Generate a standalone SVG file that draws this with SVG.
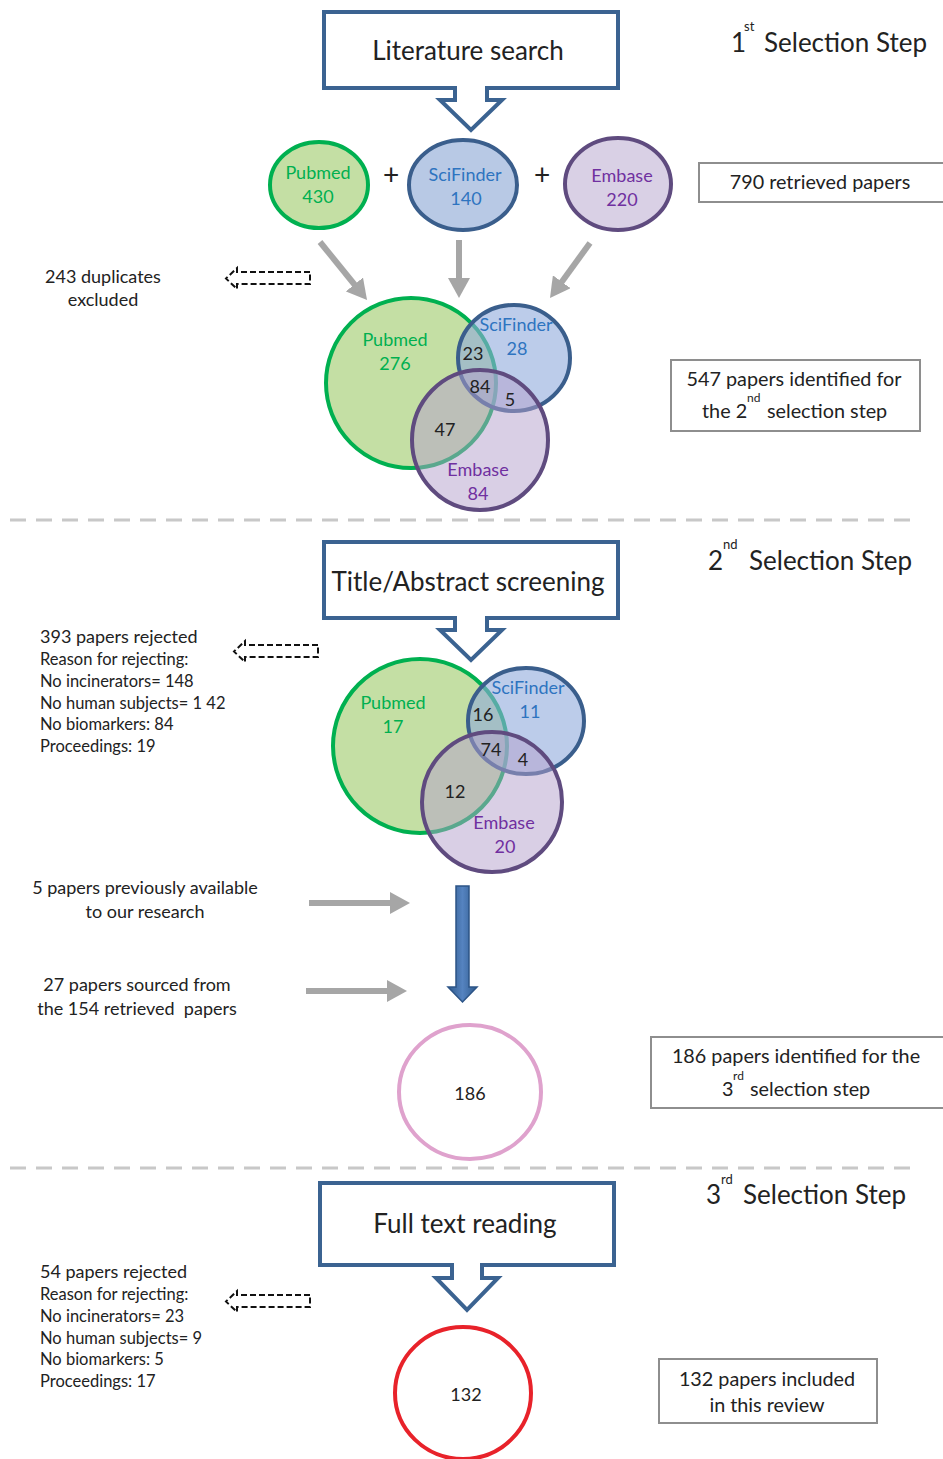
<svg xmlns="http://www.w3.org/2000/svg" width="943" height="1459" viewBox="0 0 943 1459">
<style>
text{font-family:Lato,"Open Sans","Liberation Sans",sans-serif;fill:#222}
.c{text-anchor:middle}
.step{font-size:26px}
.sup{font-size:13px}
.box{font-size:19.8px}
.main{font-size:26px}
.lst{font-size:16.5px}
.v{font-size:18px}
.g{fill:#00b050}.b{fill:#2e74c0}.p{fill:#7030a0}
.callout{fill:#fff;stroke:#3b6391;stroke-width:4;stroke-linejoin:miter}
.gbox{fill:#fff;stroke:#8e8e8e;stroke-width:2}
.dash{fill:none;stroke:#111;stroke-width:2;stroke-dasharray:6 3}
.garrow{stroke:#a6a6a6;stroke-width:6;fill:none;marker-end:url(#gh)}
.sep{stroke:#c8c8c8;stroke-width:3;stroke-dasharray:16 10}
.pm{fill:#c4dfa4;stroke:#00b050;stroke-width:4}
.sf{fill:#8faadc;fill-opacity:0.6;stroke:#3a5e8c;stroke-width:4}
.em{fill:#b4a0cc;fill-opacity:0.5;stroke:#5f4b7f;stroke-width:4}
</style>
<defs>
<marker id="gh" markerUnits="userSpaceOnUse" markerWidth="22" markerHeight="22" refX="2" refY="11" orient="auto">
<path d="M0,0 L20,11 L0,22 Z" fill="#a6a6a6"/>
</marker>
<linearGradient id="bl" x1="0" y1="0" x2="1" y2="0">
<stop offset="0" stop-color="#2f5a8c"/>
<stop offset="0.5" stop-color="#5583c0"/>
<stop offset="1" stop-color="#2f5a8c"/>
</linearGradient>
</defs>

<g id="separators">
<line class="sep" x1="10" y1="520" x2="915" y2="520"/>
<line class="sep" x1="10" y1="1168" x2="915" y2="1168"/>
</g>

<g id="step-titles">
<text class="step" x="731" y="52">1</text><text class="sup" x="744" y="31">st</text><text class="step" x="764" y="52">Selection Step</text>
<text class="step" x="708" y="570">2</text><text class="sup" x="723" y="549">nd</text><text class="step" x="749" y="570">Selection Step</text>
<text class="step" x="706" y="1204">3</text><text class="sup" x="721" y="1184">rd</text><text class="step" x="743" y="1204">Selection Step</text>
</g>

<g id="literature-search">
<path class="callout" d="M324,12 H618 V88 H487 V100 H502 L471,130 L440,100 H455 V88 H324 Z"/>
<text class="main c" x="468" y="60">Literature search</text>
</g>

<g id="pubmed-430">
<ellipse cx="319" cy="185" rx="49" ry="43" class="pm"/>
<text class="v c g" x="318" y="179">Pubmed</text>
<text class="v c g" x="318" y="203">430</text>
</g>
<g id="plus-signs">
<text x="391" y="185" class="c" font-size="28">+</text>
<text x="542" y="185" class="c" font-size="28">+</text>
</g>
<g id="scifinder-140">
<ellipse cx="463" cy="185" rx="54" ry="45" fill="#b8c9e5" stroke="#3a5e8c" stroke-width="4"/>
<text class="v c b" x="465" y="181">SciFinder</text>
<text class="v c b" x="466" y="205">140</text>
</g>
<g id="embase-220">
<ellipse cx="618" cy="184" rx="53" ry="46" fill="#d9d0e5" stroke="#5f4b7f" stroke-width="4"/>
<text class="v c p" x="622" y="182">Embase</text>
<text class="v c p" x="622" y="206">220</text>
</g>

<g id="retrieved-790">
<rect class="gbox" x="699" y="163" width="250" height="39"/>
<text class="box c" x="820" y="189">790 retrieved papers</text>
</g>

<g id="duplicates-243">
<text x="103" y="283" class="c" font-size="18">243 duplicates</text>
<text x="103" y="306" class="c" font-size="18">excluded</text>
</g>

<g id="venn-1">
<circle cx="411" cy="383" r="85" class="pm"/>
<ellipse cx="514" cy="358" rx="56" ry="53" class="sf"/>
<ellipse cx="480" cy="440" rx="68" ry="70" class="em"/>
<text class="v c g" x="395" y="346">Pubmed</text>
<text class="v c g" x="395" y="370">276</text>
<text class="v c b" x="516" y="331">SciFinder</text>
<text class="v c b" x="517" y="355">28</text>
<text class="v c" x="473" y="360">23</text>
<text class="v c" x="480" y="393">84</text>
<text class="v c" x="510" y="406">5</text>
<text class="v c" x="445" y="436">47</text>
<text class="v c p" x="478" y="476">Embase</text>
<text class="v c p" x="478" y="500">84</text>
</g>

<g id="identified-547">
<rect class="gbox" x="671" y="360" width="249" height="71"/>
<text class="box c" x="794" y="386">547 papers identified for</text>
<text class="box" x="702" y="418">the 2</text>
<text x="747" y="402" font-size="12">nd</text>
<text class="box" x="767" y="418">selection step</text>
</g>

<g id="title-abstract-screening">
<path class="callout" d="M324,542 H618 V618 H487 V630 H502 L471,660 L440,630 H455 V618 H324 Z"/>
<text class="main c" x="468" y="591">Title/Abstract screening</text>
</g>

<g id="rejected-393">
<text x="40" y="643" font-size="18">393 papers rejected</text>
<text class="lst" x="40" y="665">Reason for rejecting:</text>
<text class="lst" x="40" y="687">No incinerators= 148</text>
<text class="lst" x="40" y="709">No human subjects= 1 42</text>
<text class="lst" x="40" y="730">No biomarkers: 84</text>
<text class="lst" x="40" y="752">Proceedings: 19</text>
</g>

<g id="venn-2">
<circle cx="420" cy="746" r="87" class="pm"/>
<ellipse cx="526" cy="721" rx="58" ry="53" class="sf"/>
<ellipse cx="492" cy="802" rx="70" ry="70" class="em"/>
<text class="v c g" x="393" y="709">Pubmed</text>
<text class="v c g" x="393" y="733">17</text>
<text class="v c b" x="528" y="694">SciFinder</text>
<text class="v c b" x="530" y="718">11</text>
<text class="v c" x="483" y="721">16</text>
<text class="v c" x="491" y="756">74</text>
<text class="v c" x="523" y="766">4</text>
<text class="v c" x="455" y="798">12</text>
<text class="v c p" x="504" y="829">Embase</text>
<text class="v c p" x="505" y="853">20</text>
</g>

<g id="previously-available-5">
<text x="145" y="894" class="c" font-size="18">5 papers previously available</text>
<text x="145" y="918" class="c" font-size="18">to our research</text>
</g>
<g id="sourced-27">
<text x="137" y="991" class="c" font-size="18">27 papers sourced from</text>
<text x="137" y="1015" class="c" font-size="18" xml:space="preserve">the 154 retrieved  papers</text>
</g>

<g id="total-186">
<ellipse cx="470" cy="1092" rx="71" ry="67" fill="#fff" stroke="#dfa2cd" stroke-width="4"/>
<text class="v c" x="470" y="1100">186</text>
</g>

<g id="identified-186">
<rect class="gbox" x="651" y="1037" width="300" height="71"/>
<text class="box c" x="796" y="1063">186 papers identified for the</text>
<text class="box" x="722" y="1096">3</text>
<text x="733" y="1080" font-size="12">rd</text>
<text class="box" x="750" y="1096">selection step</text>
</g>

<g id="full-text-reading">
<path class="callout" d="M320,1183 H614 V1265 H482 V1278 H498 L467,1310 L436,1278 H452 V1265 H320 Z"/>
<text class="main c" x="465" y="1233">Full text reading</text>
</g>

<g id="rejected-54">
<text x="40" y="1278" font-size="18">54 papers rejected</text>
<text class="lst" x="40" y="1300">Reason for rejecting:</text>
<text class="lst" x="40" y="1322">No incinerators= 23</text>
<text class="lst" x="40" y="1344">No human subjects= 9</text>
<text class="lst" x="40" y="1365">No biomarkers: 5</text>
<text class="lst" x="40" y="1387">Proceedings: 17</text>
</g>

<g id="included-132">
<ellipse cx="463" cy="1393" rx="68" ry="66" fill="#fff" stroke="#e8222a" stroke-width="4"/>
<text class="v c" x="466" y="1401">132</text>
</g>

<g id="included-box">
<rect class="gbox" x="659" y="1359" width="218" height="64"/>
<text class="box c" x="767" y="1386">132 papers included</text>
<text class="box c" x="767" y="1412">in this review</text>
</g>

<g id="connectors">
<line class="garrow" x1="320" y1="242" x2="355.7" y2="286"/>
<line class="garrow" x1="459" y1="240" x2="459" y2="280"/>
<line class="garrow" x1="590" y1="243" x2="560.6" y2="283.4"/>
<path class="dash" d="M310,272 H237 V268 L226,278.5 L237,289 V284 H310 Z"/>
<path class="dash" d="M318,645 H245 V641 L234,651.5 L245,662 V657 H318 Z"/>
<path class="dash" d="M310,1295 H237 V1291 L226,1301.5 L237,1312 V1307 H310 Z"/>
<line class="garrow" x1="309" y1="903" x2="392" y2="903"/>
<line class="garrow" x1="306" y1="991" x2="389" y2="991"/>
<path d="M456,886 H469 V987 H477 L462.5,1002 L448,987 H456 Z" fill="url(#bl)" stroke="#2c5487" stroke-width="1.5"/>
</g>
</svg>
